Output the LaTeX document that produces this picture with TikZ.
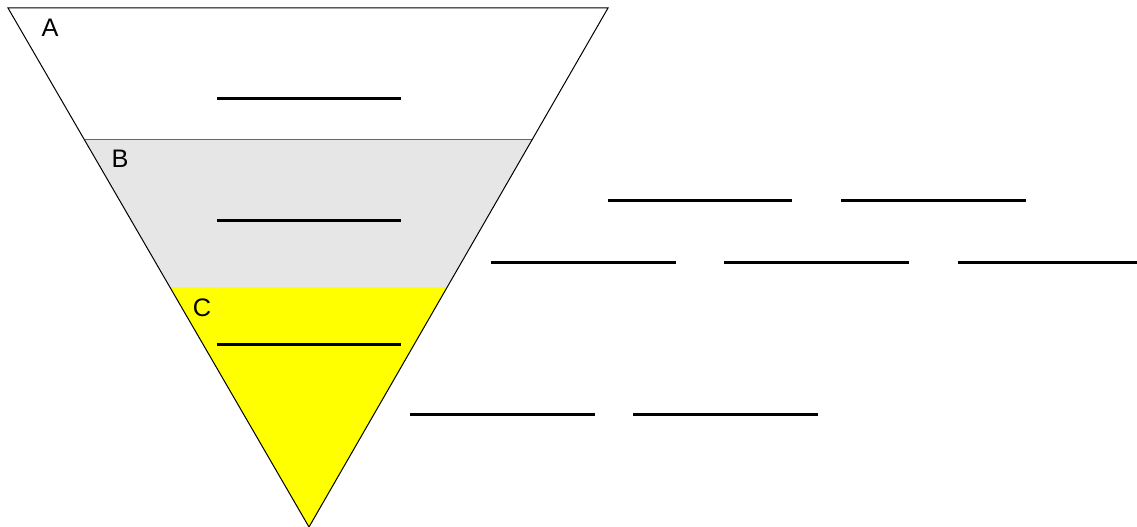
\documentclass[tikz,border=0pt]{standalone}
\usepackage{fontspec}
\setmainfont{Liberation Sans}
\definecolor{bandgray}{RGB}{230,230,230}
\definecolor{bandyellow}{RGB}{255,255,0}
\begin{document}
\begin{tikzpicture}[x=0.75pt,y=-0.75pt,
  blank/.style={line width=2.25pt,line cap=butt},
  lbl/.style={font=\fontsize{19}{21}\selectfont,inner sep=0pt}]
\useasboundingbox (0,0) rectangle (1137,527);
% corners
\coordinate (tl) at (8,8);
\coordinate (tr) at (608,8);
\coordinate (ap) at (309,527);
\coordinate (bl) at (84.6,140);
\coordinate (br) at (532,140);
\coordinate (cl) at (169.8,287);
\coordinate (cr) at (447,287);
% bands
\fill[white] (tl) -- (tr) -- (br) -- (bl) -- cycle;
\fill[bandgray] (bl) -- (br) -- (cr) -- (cl) -- cycle;
\fill[bandyellow] (cl) -- (cr) -- (ap) -- cycle;
\draw[line width=0.75pt,black!60] (bl) -- (br);
\draw[line width=0.75pt,line join=miter] (tl) -- (tr) -- (ap) -- cycle;
% labels
\node[lbl] (A) at (50,27.5) {A};
\node[lbl] (B) at (120,159) {B};
\node[lbl] (C) at (202,307.5) {C};
% blanks
\draw[blank] (217,99) -- (401,99);
\draw[blank] (217,221) -- (401,221);
\draw[blank] (217,344) -- (401,344);
\draw[blank] (608,201) -- (792,201);
\draw[blank] (841,201) -- (1026,201);
\draw[blank] (491,262) -- (676,262);
\draw[blank] (724,262) -- (909,262);
\draw[blank] (958,262) -- (1137,262);
\draw[blank] (410,414) -- (595,414);
\draw[blank] (633,414) -- (818,414);
\end{tikzpicture}
\end{document}
